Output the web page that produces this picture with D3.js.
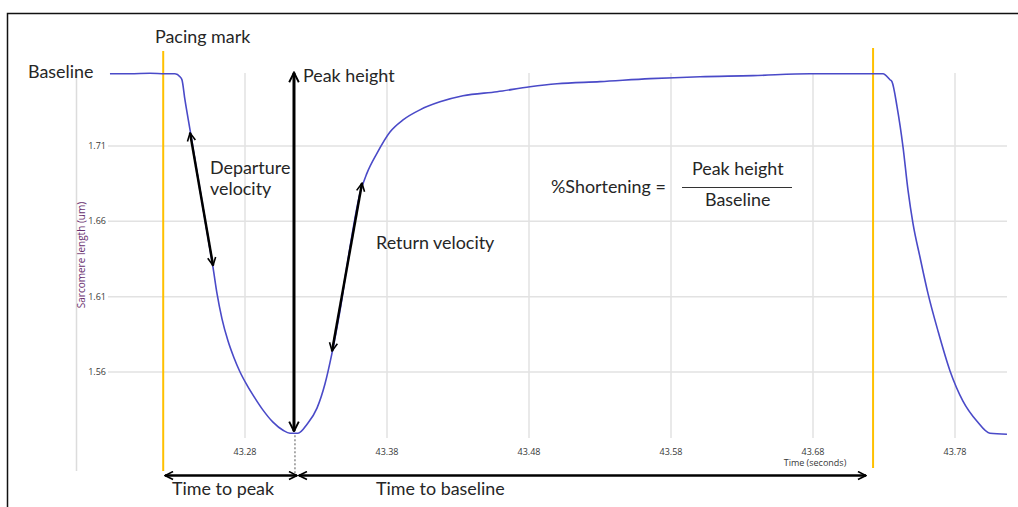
<!DOCTYPE html>
<html>
<head>
<meta charset="utf-8">
<script src="https://cdn.jsdelivr.net/npm/d3@7"></script>
<style>
  body { margin: 0; background: #fff; }
  .note { font-family: Lato, "Open Sans", sans-serif; font-size: 17.9px; fill: #262626; }
  .tick-label { font-family: "Open Sans", sans-serif; font-size: 9px; fill: #383838; }
</style>
</head>
<body>
<div id="chart"></div>
<script>
// sarcomere length trace (seconds, um)
var timeData = [43.1849, 43.1990, 43.2131, 43.2237, 43.2307, 43.2342, 43.2356, 43.2377, 43.2413, 43.2462,
  43.2504, 43.2539, 43.2575, 43.2603, 43.2638, 43.2680, 43.2723, 43.2765, 43.2814, 43.2870,
  43.2927, 43.2997, 43.3068, 43.3117, 43.3173, 43.3237, 43.3307, 43.3363, 43.3413, 43.3469,
  43.3539, 43.3610, 43.3659, 43.3730, 43.3821, 43.3913, 43.4032, 43.4173, 43.4335, 43.4575,
  43.4807, 43.4997, 43.5300, 43.5652, 43.6004, 43.6377, 43.6779, 43.7061, 43.7293, 43.7342,
  43.7356, 43.7392, 43.7434, 43.7469, 43.7504, 43.7554, 43.7610, 43.7680, 43.7765, 43.7856,
  43.7955, 43.8046, 43.8166];
var lengthData = [1.7580, 1.7580, 1.7583, 1.7580, 1.7580, 1.7560, 1.7540, 1.7407, 1.7207, 1.6927,
  1.6693, 1.6493, 1.6293, 1.6120, 1.5953, 1.5807, 1.5693, 1.5600, 1.5513, 1.5427,
  1.5347, 1.5267, 1.5213, 1.5193, 1.5193, 1.5253, 1.5360, 1.5520, 1.5727, 1.6007,
  1.6427, 1.6787, 1.6920, 1.7053, 1.7193, 1.7273, 1.7340, 1.7393, 1.7433, 1.7460,
  1.7493, 1.7513, 1.7527, 1.7547, 1.7560, 1.7567, 1.7580, 1.7580, 1.7580, 1.7540,
  1.7527, 1.7360, 1.7093, 1.6807, 1.6587, 1.6360, 1.6120, 1.5873, 1.5607, 1.5407,
  1.5273, 1.5193, 1.5187];

var xTicks = [43.28, 43.38, 43.48, 43.58, 43.68, 43.78];
var yTicks = [1.56, 1.61, 1.66, 1.71];

// pacing marks and annotation arrows, in data units
var pacingTimes = [43.2224, 43.7223];
var departureArrow = [[43.2413, 1.7187], [43.2575, 1.6307]];
var returnArrow = [[43.3624, 1.6853], [43.3413, 1.5740]];
var peakArrow = [[43.3145, 1.7587], [43.3145, 1.5207]];
var timeToPeak = [[43.2237, 1.4913], [43.3166, 1.4913]];
var timeToBaseline = [[43.3180, 1.4913], [43.7173, 1.4913]];

var width = 1018, height = 507;

var svg = d3.select("#chart").append("svg")
  .attr("width", width).attr("height", height);

var x = d3.scaleLinear().domain([43.28, 43.78]).range([245, 955]);
var y = d3.scaleLinear().domain([1.56, 1.71]).range([372, 146]);

// frame
svg.append("path")
  .attr("d", "M7.5," + height + "V13.5H" + width)
  .attr("fill", "none").attr("stroke", "#111").attr("stroke-width", 1.5);

// grid
svg.append("g").selectAll("line").data(yTicks).join("line")
  .attr("x1", 108).attr("x2", 1007)
  .attr("y1", d => y(d)).attr("y2", d => y(d))
  .attr("stroke", "#e2e2e2").attr("stroke-width", 1.5);

svg.append("g").selectAll("line").data(xTicks).join("line")
  .attr("x1", d => x(d)).attr("x2", d => x(d))
  .attr("y1", 73).attr("y2", 438)
  .attr("stroke", "#e2e2e2").attr("stroke-width", 1.5);

svg.append("line")
  .attr("x1", 76.5).attr("x2", 76.5).attr("y1", 73).attr("y2", 471)
  .attr("stroke", "#dcdcdc").attr("stroke-width", 1.5);

svg.append("g").selectAll("text").data(yTicks).join("text")
  .attr("class", "tick-label")
  .attr("x", 106).attr("y", d => y(d) + 3)
  .attr("text-anchor", "end")
  .text(d => d3.format(".2f")(d));

svg.append("g").selectAll("text").data(xTicks).join("text")
  .attr("class", "tick-label")
  .attr("x", d => x(d)).attr("y", 455)
  .attr("text-anchor", "middle")
  .text(d => d3.format(".2f")(d));

svg.append("text")
  .attr("class", "tick-label")
  .attr("x", x(43.68) + 2).attr("y", 466)
  .attr("text-anchor", "middle")
  .text("Time (seconds)");

svg.append("text")
  .attr("transform", "translate(85,255) rotate(-90)")
  .attr("text-anchor", "middle")
  .style("font-family", "'Open Sans', sans-serif")
  .style("font-size", "10px")
  .style("fill", "#6a3070")
  .text("Sarcomere length (um)");

// pacing marks
svg.append("g").selectAll("line").data(pacingTimes).join("line")
  .attr("x1", d => x(d)).attr("x2", d => x(d))
  .attr("y1", (d, i) => i == 0 ? 51 : 48).attr("y2", (d, i) => i == 0 ? 471 : 468)
  .attr("stroke", "#ffc000").attr("stroke-width", 2);

// trace
var line = d3.line()
  .x(d => x(d[0])).y(d => y(d[1]))
  .curve(d3.curveMonotoneX);

svg.append("path")
  .datum(timeData.map((t, i) => [t, lengthData[i]]))
  .attr("d", line)
  .attr("fill", "none")
  .attr("stroke", "#4a4ac8")
  .attr("stroke-width", 1.6);

// arrow heads
var defs = svg.append("defs");
defs.append("marker")
  .attr("id", "head")
  .attr("viewBox", "0 0 10 10")
  .attr("refX", 9).attr("refY", 5)
  .attr("markerWidth", 4).attr("markerHeight", 4)
  .attr("markerUnits", "strokeWidth")
  .attr("orient", "auto-start-reverse")
  .append("path")
  .attr("d", "M1,1 L9,5 L1,9")
  .attr("fill", "none").attr("stroke", "#000").attr("stroke-width", 1.6)
  .attr("stroke-linejoin", "miter");

function arrow(pts, w) {
  svg.append("line")
    .attr("x1", x(pts[0][0])).attr("y1", y(pts[0][1]))
    .attr("x2", x(pts[1][0])).attr("y2", y(pts[1][1]))
    .attr("stroke", "#000").attr("stroke-width", w)
    .attr("marker-start", "url(#head)")
    .attr("marker-end", "url(#head)");
}
arrow(departureArrow, 2.5);
arrow(returnArrow, 2.5);
arrow(peakArrow, 3);
arrow(timeToPeak, 2.5);
arrow(timeToBaseline, 2.5);

// dotted drop line at the peak
svg.append("line")
  .attr("x1", x(43.3152)).attr("x2", x(43.3152))
  .attr("y1", y(1.5180)).attr("y2", y(1.4920))
  .attr("stroke", "#555").attr("stroke-width", 1)
  .attr("stroke-dasharray", "2,2");

// labels
var notes = [
  {t: "Pacing mark", x: 155, y: 43},
  {t: "Baseline", x: 28, y: 78},
  {t: "Peak height", x: 303, y: 82},
  {t: "Departure", x: 210, y: 174},
  {t: "velocity", x: 210, y: 195},
  {t: "Return velocity", x: 376, y: 249},
  {t: "%Shortening =", x: 551, y: 193},
  {t: "Peak height", x: 692, y: 175},
  {t: "Baseline", x: 705, y: 206},
  {t: "Time to peak", x: 172, y: 495},
  {t: "Time to baseline", x: 376, y: 495}
];
svg.append("g").selectAll("text").data(notes).join("text")
  .attr("class", "note")
  .attr("x", d => d.x).attr("y", d => d.y)
  .text(d => d.t);

// fraction bar
svg.append("line")
  .attr("x1", 682).attr("x2", 792).attr("y1", 187.5).attr("y2", 187.5)
  .attr("stroke", "#333").attr("stroke-width", 1);
</script>
</body>
</html>
